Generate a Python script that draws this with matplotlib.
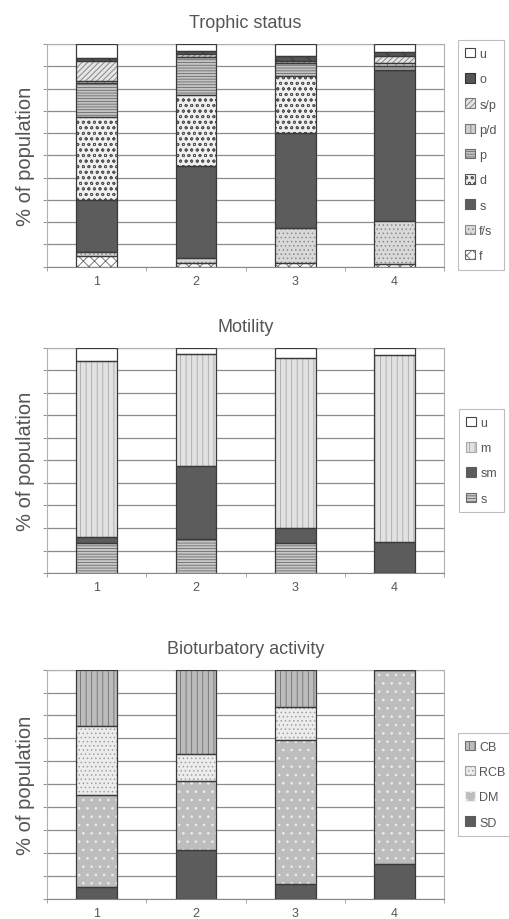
import numpy as np
import matplotlib
matplotlib.use("Agg")
import matplotlib.pyplot as plt
from matplotlib.patches import Patch

plt.rcParams['font.family'] = ['Liberation Sans', 'DejaVu Sans']
plt.rcParams['hatch.linewidth'] = 0.6

groups = ["1", "2", "3", "4"]

# Trophic status (stack order bottom -> top)
trophic_labels = ["f", "f/s", "s", "d", "p", "p/d", "s/p", "o", "u"]
trophic_f = [4.8, 1.5, 1.8, 1.0]
trophic_fs = [2.0, 2.2, 15.6, 19.5]
trophic_s = [23.0, 41.7, 42.6, 68.0]
trophic_d = [37.6, 31.7, 25.6, 0.0]
trophic_p = [15.0, 17.1, 6.0, 1.5]
trophic_pd = [1.0, 0.0, 0.0, 1.5]
trophic_sp = [9.0, 1.5, 0.7, 3.3]
trophic_o = [1.5, 1.2, 2.5, 1.6]
trophic_u = [6.1, 3.1, 5.2, 3.6]

# Motility
motility_labels = ["s", "sm", "m", "u"]
motility_s = [13.3, 15.1, 13.2, 0.0]
motility_sm = [2.5, 32.2, 6.7, 13.6]
motility_m = [78.4, 49.9, 75.4, 83.1]
motility_u = [5.8, 2.8, 4.7, 3.3]

# Bioturbatory activity
bio_labels = ["SD", "DM", "RCB", "CB"]
bio_sd = [5.1, 21.4, 6.3, 15.0]
bio_dm = [40.4, 29.9, 63.1, 85.0]
bio_rcb = [29.8, 11.9, 14.2, 0.0]
bio_cb = [24.7, 36.8, 16.4, 0.0]

# (facecolor, hatch, hatch colour)
trophic_styles = [
    ("white", "xxx", "#666666"),
    ("#d9d9d9", "....", "#8a8a8a"),
    ("#5c5c5c", None, "#5c5c5c"),
    ("#f0f0f0", "ooo", "#555555"),
    ("#c4c4c4", "------", "#6a6a6a"),
    ("#d0d0d0", "||", "#777777"),
    ("#e4e4e4", "//////", "#7a7a7a"),
    ("#555555", "\\\\", "#333333"),
    ("white", None, "#444444"),
]
motility_styles = [
    ("#c8c8c8", "------", "#6a6a6a"),
    ("#5c5c5c", None, "#5c5c5c"),
    ("#e2e2e2", "|||", "#a8a8a8"),
    ("white", None, "#444444"),
]
bio_styles = [
    ("#5c5c5c", None, "#5c5c5c"),
    ("#bdbdbd", "..", "#eeeeee"),
    ("#ececec", "....", "#a0a0a0"),
    ("#bcbcbc", "|||", "#707070"),
]

text_col = "#555555"


def stacked(ax, series, labels, styles, title, legend_xy):
    x = np.arange(len(groups))
    bottom = np.zeros(len(groups))
    handles = []
    for vals, lab, (fc, h, hc) in zip(series, labels, styles):
        vals = np.array(vals)
        ax.bar(x, vals, 0.41, bottom=bottom, color=fc, hatch=h,
               edgecolor=hc, linewidth=0, zorder=3)
        ax.bar(x, vals, 0.41, bottom=bottom, fill=False,
               edgecolor="#3a3a3a", linewidth=0.9, zorder=4)
        bottom += vals
        handles.append(Patch(facecolor=fc, hatch=h, edgecolor=hc,
                             linewidth=0.8))
    ax.set_xlim(-0.5, len(groups) - 0.5)
    ax.set_ylim(0, 100)
    ax.set_yticks(np.arange(0, 101, 10))
    ax.set_yticklabels([])
    ax.tick_params(axis="y", length=3, color="#999999")
    ax.set_xticks(x)
    ax.set_xticklabels(groups, fontsize=9, color=text_col)
    ax.tick_params(axis="x", length=0, pad=6)
    ax.set_xticks(np.arange(-0.5, len(groups), 1), minor=True)
    ax.tick_params(axis="x", which="minor", length=3, color="#999999")
    ax.grid(axis="y", color="#8c8c8c", linewidth=0.9, zorder=0)
    for sp in ax.spines.values():
        sp.set_color("#b0b0b0")
        sp.set_linewidth(0.8)
    ax.spines["bottom"].set_color("#888888")
    ax.set_title(title, fontsize=13, color=text_col, pad=12)
    ax.set_ylabel("% of population", fontsize=14.5, color=text_col, labelpad=2)
    leg = ax.legend(handles[::-1], labels[::-1], loc="upper left",
                    bbox_to_anchor=legend_xy, bbox_transform=fig.transFigure,
                    borderaxespad=0, fontsize=9, frameon=True, fancybox=False,
                    handlelength=0.8, handleheight=0.8, handletextpad=0.3,
                    labelspacing=1.05, borderpad=0.6)
    leg.get_frame().set_edgecolor("#b0b0b0")
    leg.get_frame().set_linewidth(0.8)
    for t in leg.get_texts():
        t.set_color(text_col)


fig = plt.figure(figsize=(5.1, 9.2), dpi=100)
ax1 = fig.add_axes([0.092, 0.709, 0.779, 0.242])
ax2 = fig.add_axes([0.092, 0.376, 0.779, 0.245])
ax3 = fig.add_axes([0.092, 0.022, 0.779, 0.249])

stacked(ax1, [trophic_f, trophic_fs, trophic_s, trophic_d, trophic_p,
              trophic_pd, trophic_sp, trophic_o, trophic_u],
        trophic_labels, trophic_styles, "Trophic status", (0.898, 0.955))
stacked(ax2, [motility_s, motility_sm, motility_m, motility_u],
        motility_labels, motility_styles, "Motility", (0.900, 0.554))
stacked(ax3, [bio_sd, bio_dm, bio_rcb, bio_cb],
        bio_labels, bio_styles, "Bioturbatory activity", (0.898, 0.202))

fig.savefig("out.png", dpi=100)
